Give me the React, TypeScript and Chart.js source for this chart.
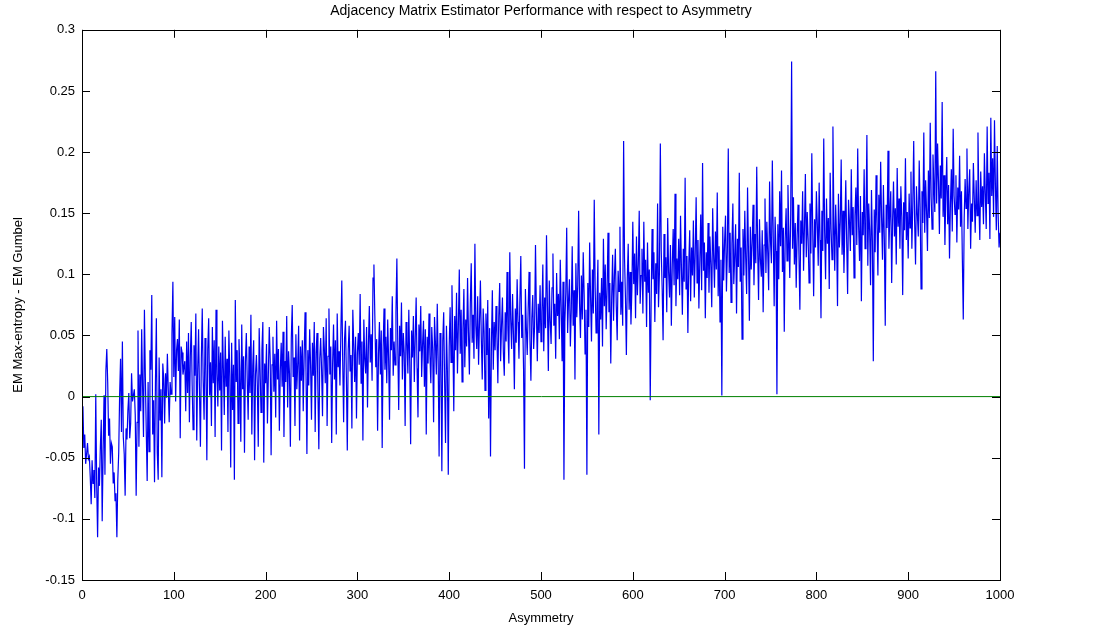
import React, { useEffect, useRef } from "react";
import { Chart, registerables } from "chart.js";

Chart.register(...registerables);

const chartTitle = "Adjacency Matrix Estimator Performance with respect to Asymmetry";
const xAxisTitle = "Asymmetry";
const yAxisTitle = "EM Max-entropy - EM Gumbel";

const xTickValues = [0, 100, 200, 300, 400, 500, 600, 700, 800, 900, 1000];
const xTickLabels = ["0", "100", "200", "300", "400", "500", "600", "700", "800", "900", "1000"];
const yTickValues = [-0.15, -0.1, -0.05, 0, 0.05, 0.1, 0.15, 0.2, 0.25, 0.3];
const yTickLabels = ["-0.15", "-0.1", "-0.05", "0", "0.05", "0.1", "0.15", "0.2", "0.25", "0.3"];

// EM Max-entropy - EM Gumbel, asymmetry 1..100
const diff1to100 = [
  -0.008, -0.042, -0.031, -0.055, -0.047, -0.038, -0.051, -0.049, -0.066, -0.088,
  -0.052, -0.071, -0.060, -0.083, 0.002, -0.071, -0.115, -0.058, -0.073, -0.041,
  -0.019, -0.102, -0.045, 0.001, -0.064, 0.021, 0.039, 0.012, -0.032, -0.018,
  -0.055, -0.038, -0.041, -0.071, -0.062, -0.085, -0.079, -0.115, -0.068, -0.046,
  0.002, 0.031, -0.029, 0.045, -0.033, -0.047, -0.081, -0.026, -0.035, -0.011,
  0.003, -0.034, -0.022, 0.019, -0.004, 0.001, 0.006, -0.015, -0.081, -0.021,
  0.054, -0.041, 0.018, -0.012, 0.055, 0.008, -0.033, 0.071, 0.016, -0.028,
  -0.069, 0.012, -0.045, 0.038, 0.022, 0.083, -0.031, -0.003, -0.070, 0.011,
  0.064, -0.046, -0.068, 0.032, -0.019, 0.006, -0.066, 0.027, 0.015, -0.022,
  0.019, -0.001, 0.035, 0.005, -0.021, 0.012, 0.002, 0.051, 0.094, 0.016,
];
const diff101to200 = [
  0.065, -0.004, 0.038, 0.047, 0.021, 0.063, -0.034, 0.041, 0.036, 0.018,
  0.024, 0.029, -0.012, 0.045, 0.003, 0.052, -0.021, 0.033, 0.061, 0.009,
  -0.027, 0.042, 0.017, 0.068, -0.036, 0.021, 0.055, 0.004, -0.041, 0.031,
  0.072, 0.013, -0.019, 0.048, 0.026, -0.052, 0.039, 0.064, 0.001, 0.028,
  -0.024, 0.057, 0.011, 0.046, -0.033, 0.071, 0.019, -0.008, 0.041, 0.005,
  0.036, -0.044, 0.062, 0.023, -0.015, 0.049, 0.008, 0.031, -0.029, 0.054,
  0.017, -0.058, 0.044, -0.011, 0.026, -0.068, 0.079, 0.012, 0.038, -0.022,
  0.047, 0.021, -0.037, 0.059, 0.006, 0.033, -0.046, 0.028, 0.052, 0.014,
  -0.019, 0.041, 0.003, 0.067, -0.031, 0.025, 0.046, -0.052, 0.018, 0.034,
  0.009, -0.041, 0.056, 0.022, -0.013, 0.038, 0.061, -0.054, 0.027, 0.011,
];
const diff201to300 = [
  0.043, -0.022, 0.018, 0.057, 0.031, -0.048, 0.026, 0.049, 0.004, 0.035,
  -0.017, 0.062, 0.014, 0.039, -0.028, 0.021, 0.044, 0.008, 0.053, -0.033,
  0.029, 0.012, 0.066, -0.009, 0.037, 0.019, -0.041, 0.048, 0.075, 0.016,
  0.032, -0.024, 0.051, 0.006, 0.027, 0.058, -0.036, 0.041, 0.013, 0.046,
  -0.012, 0.034, 0.069, 0.021, -0.047, 0.038, 0.009, 0.055, 0.026, -0.019,
  0.044, 0.017, 0.061, -0.029, 0.036, 0.052, 0.005, -0.043, 0.031, 0.048,
  0.022, -0.016, 0.057, 0.039, 0.011, 0.064, -0.024, 0.033, 0.072, 0.018,
  0.041, -0.038, 0.027, 0.059, 0.014, 0.046, -0.031, 0.068, 0.024, 0.037,
  0.009, 0.053, 0.095, 0.029, -0.021, 0.047, 0.062, 0.016, -0.044, 0.038,
  0.058, 0.021, 0.034, -0.026, 0.071, 0.043, 0.012, 0.049, -0.018, 0.036,
];
const diff301to400 = [
  0.052, 0.026, 0.084, 0.011, 0.045, -0.036, 0.063, 0.031, 0.019, 0.057,
  -0.009, 0.042, 0.074, 0.028, 0.051, 0.013, 0.097, 0.108, 0.066, 0.024,
  0.047, -0.028, 0.035, 0.061, 0.018, 0.054, -0.042, 0.039, 0.072, 0.022,
  0.049, 0.011, 0.063, 0.031, -0.019, 0.056, 0.038, 0.082, 0.017, 0.045,
  0.026, 0.069, 0.113, 0.041, -0.011, 0.058, 0.033, 0.077, 0.014, 0.052,
  0.036, -0.024, 0.061, 0.045, 0.019, 0.071, 0.028, -0.039, 0.054, 0.032,
  0.066, 0.012, 0.048, 0.081, 0.023, -0.017, 0.059, 0.037, 0.074, 0.016,
  0.043, 0.062, 0.008, 0.055, -0.031, 0.049, 0.027, 0.068, 0.034, 0.011,
  0.057, 0.039, -0.021, 0.065, 0.044, 0.018, 0.076, 0.029, -0.049, 0.052,
  0.031, -0.061, 0.046, 0.069, 0.013, -0.038, 0.058, 0.022, -0.064, 0.041,
];
const diff401to500 = [
  0.073, 0.028, 0.091, 0.047, -0.012, 0.066, 0.038, 0.085, 0.019, 0.059,
  0.104, 0.035, 0.071, 0.012, 0.056, 0.088, 0.024, 0.063, 0.041, 0.097,
  0.052, 0.018, 0.076, 0.109, 0.044, 0.067, 0.031, 0.125, 0.058, 0.039,
  0.082, 0.026, 0.061, 0.095, 0.047, 0.014, 0.072, 0.053, 0.005, 0.068,
  0.034, 0.079, -0.018, 0.056, -0.049, 0.043, 0.087, 0.022, 0.061, 0.038,
  0.074, 0.049, 0.011, 0.066, 0.093, 0.029, 0.058, 0.081, 0.036, 0.017,
  0.069, 0.045, 0.102, 0.054, 0.027, 0.118, 0.063, 0.039, 0.084, 0.051,
  0.006, 0.072, 0.044, 0.096, 0.061, 0.031, 0.079, 0.115, 0.048, 0.067,
  0.023, -0.059, 0.088, 0.057, 0.034, 0.071, 0.102, 0.046, 0.013, 0.064,
  0.083, 0.039, 0.057, 0.124, 0.068, 0.029, 0.076, 0.052, 0.091, 0.045,
];
const diff501to600 = [
  0.069, 0.108, 0.037, 0.081, 0.056, 0.132, 0.074, 0.021, 0.095, 0.062,
  0.043, 0.089, 0.117, 0.058, 0.076, 0.031, 0.101, 0.066, 0.084, 0.047,
  0.112, 0.073, 0.029, 0.094, -0.068, 0.061, 0.085, 0.138, 0.052, 0.079,
  0.096, 0.041, 0.071, 0.123, 0.058, 0.087, 0.014, 0.109, 0.065, 0.091,
  0.152, 0.076, 0.048, 0.099, 0.063, 0.118, 0.084, 0.035, 0.071, -0.064,
  0.093, 0.057, 0.126, 0.081, 0.045, 0.104, 0.068, 0.161, 0.089, 0.052,
  0.077, 0.112, -0.031, 0.085, 0.063, 0.097, 0.041, 0.129, 0.074, 0.108,
  0.055, 0.088, 0.134, 0.069, 0.093, 0.027, 0.081, 0.116, 0.062, 0.099,
  0.121, 0.074, 0.046, 0.103, 0.086, 0.139, 0.067, 0.094, 0.058, 0.209,
  0.113, 0.081, 0.034, 0.097, 0.125, 0.071, 0.102, 0.059, 0.088, 0.143,
];
const diff601to700 = [
  0.092, 0.117, 0.064, 0.131, 0.083, 0.108, 0.152, 0.076, 0.099, 0.121,
  0.068, 0.143, 0.094, 0.112, 0.057, 0.126, 0.085, 0.104, -0.003, 0.079,
  0.137, 0.096, 0.118, 0.061, 0.109, 0.084, 0.158, 0.073, 0.101, 0.207,
  0.119, 0.088, 0.046, 0.133, 0.097, 0.114, 0.069, 0.146, 0.102, 0.081,
  0.124, 0.058, 0.108, 0.137, 0.091, 0.166, 0.074, 0.113, 0.096, 0.129,
  0.083, 0.148, 0.105, 0.067, 0.121, 0.094, 0.179, 0.088, 0.115, 0.052,
  0.109, 0.136, 0.078, 0.122, 0.099, 0.144, 0.081, 0.117, 0.163, 0.093,
  0.128, 0.072, 0.111, 0.149, 0.087, 0.191, 0.103, 0.126, 0.064, 0.118,
  0.097, 0.142, 0.085, 0.131, 0.108, 0.073, 0.154, 0.116, 0.089, 0.135,
  0.104, 0.167, 0.082, 0.123, 0.061, 0.112, 0.001, 0.139, 0.095, 0.127,
];
const diff701to800 = [
  0.148, 0.086, 0.119, 0.203, 0.101, 0.134, 0.077, 0.125, 0.158, 0.092,
  0.115, 0.141, 0.068, 0.129, 0.106, 0.183, 0.094, 0.122, 0.047, 0.137,
  0.099, 0.152, 0.113, 0.084, 0.171, 0.118, 0.062, 0.139, 0.104, 0.126,
  0.157, 0.091, 0.133, 0.109, 0.188, 0.121, 0.079, 0.145, 0.112, 0.098,
  0.136, 0.069, 0.124, 0.162, 0.101, 0.143, 0.118, 0.087, 0.176, 0.127,
  0.109, 0.193, 0.131, 0.074, 0.147, 0.119, 0.002, 0.141, 0.096, 0.168,
  0.123, 0.185, 0.102, 0.138, 0.053, 0.129, 0.154, 0.111, 0.173, 0.134,
  0.097, 0.149, 0.274, 0.121, 0.163, 0.108, 0.142, 0.089, 0.131, 0.157,
  0.116, 0.071, 0.144, 0.125, 0.168, 0.103, 0.139, 0.182, 0.114, 0.151,
  0.129, 0.093, 0.158, 0.117, 0.199, 0.136, 0.082, 0.145, 0.122, 0.168,
];
const diff801to900 = [
  0.141, 0.107, 0.175, 0.128, 0.064, 0.152, 0.119, 0.211, 0.134, 0.096,
  0.162, 0.125, 0.146, 0.088, 0.183, 0.137, 0.112, 0.221, 0.148, 0.103,
  0.157, 0.131, 0.074, 0.166, 0.122, 0.143, 0.194, 0.116, 0.152, 0.101,
  0.138, 0.177, 0.126, 0.084, 0.161, 0.143, 0.119, 0.186, 0.132, 0.155,
  0.097, 0.148, 0.171, 0.124, 0.203, 0.139, 0.111, 0.164, 0.078, 0.151,
  0.132, 0.186, 0.121, 0.145, 0.214, 0.107, 0.158, 0.136, 0.091, 0.169,
  0.127, 0.029, 0.153, 0.118, 0.181, 0.142, 0.099, 0.165, 0.134, 0.192,
  0.146, 0.112, 0.173, 0.129, 0.058, 0.157, 0.138, 0.201, 0.121, 0.149,
  0.168, 0.093, 0.144, 0.176, 0.131, 0.154, 0.108, 0.187, 0.139, 0.162,
  0.121, 0.172, 0.147, 0.083, 0.159, 0.136, 0.195, 0.128, 0.151, 0.113,
];
const diff901to1000 = [
  0.166, 0.138, 0.184, 0.121, 0.157, 0.209, 0.143, 0.108, 0.172, 0.149,
  0.131, 0.193, 0.155, 0.088, 0.168, 0.142, 0.216, 0.134, 0.177, 0.152,
  0.119, 0.185, 0.146, 0.224, 0.163, 0.137, 0.198, 0.172, 0.151, 0.266,
  0.158, 0.207, 0.176, 0.133, 0.189, 0.162, 0.241, 0.147, 0.181, 0.124,
  0.167, 0.196, 0.141, 0.173, 0.113, 0.158, 0.186, 0.135, 0.219, 0.164,
  0.149, 0.181, 0.126, 0.171, 0.153, 0.197, 0.139, 0.168, 0.112, 0.063,
  0.146, 0.178, 0.154, 0.203, 0.137, 0.169, 0.186, 0.121, 0.158, 0.143,
  0.191, 0.162, 0.134, 0.177, 0.148, 0.216, 0.159, 0.128, 0.184, 0.155,
  0.172, 0.141, 0.199, 0.166, 0.137, 0.221, 0.158, 0.183, 0.129, 0.228,
  0.164, 0.195, 0.147, 0.226, 0.173, 0.136, 0.205, 0.148, 0.122, 0.134,
];

const zeroLineX = [1, 1000];
const zeroLineY = [0, 0];

const FONT = "'Liberation Sans', Arial, Helvetica, sans-serif";

const matlabAxesPlugin = {
  id: "matlabAxes",
  afterDatasetsDraw(chart: any) {
    const { ctx, chartArea, scales } = chart;
    const { left, right, top, bottom } = chartArea;
    const tick = 8;
    ctx.save();
    ctx.strokeStyle = "#000000";
    ctx.lineWidth = 1;
    ctx.beginPath();
    xTickValues.forEach((v) => {
      const px = Math.round(scales.x.getPixelForValue(v)) + 0.5;
      ctx.moveTo(px, bottom);
      ctx.lineTo(px, bottom - tick);
      ctx.moveTo(px, top);
      ctx.lineTo(px, top + tick);
    });
    yTickValues.forEach((v) => {
      const py = Math.round(scales.y.getPixelForValue(v)) + 0.5;
      ctx.moveTo(left, py);
      ctx.lineTo(left + tick, py);
      ctx.moveTo(right, py);
      ctx.lineTo(right - tick, py);
    });
    ctx.stroke();
    ctx.strokeRect(Math.round(left) + 0.5, Math.round(top) + 0.5, Math.round(right - left), Math.round(bottom - top));
    ctx.restore();
  },
};

export default function App() {
  const canvasRef = useRef<HTMLCanvasElement | null>(null);

  useEffect(() => {
    const canvas = canvasRef.current;
    if (!canvas) return;
    const values = [
      ...diff1to100, ...diff101to200, ...diff201to300, ...diff301to400, ...diff401to500,
      ...diff501to600, ...diff601to700, ...diff701to800, ...diff801to900, ...diff901to1000,
    ];
    const asymmetry = values.map((_, i) => i + 1);
    const chart = new Chart(canvas, {
      type: "line",
      data: {
        datasets: [
          {
            label: "zero",
            data: zeroLineX.map((x, i) => ({ x, y: zeroLineY[i] })),
            borderColor: "#008000",
            borderWidth: 1,
            pointRadius: 0,
            order: 0,
          },
          {
            label: "difference",
            data: values.map((y, i) => ({ x: asymmetry[i], y })),
            borderColor: "#0000f0",
            borderWidth: 1.2,
            pointRadius: 0,
            tension: 0,
            order: 1,
          },
        ],
      },
      options: {
        animation: false,
        responsive: false,
        devicePixelRatio: 1,
        layout: { padding: { left: 0, right: 101, top: 0, bottom: 0 } },
        plugins: {
          legend: { display: false },
          tooltip: { enabled: false },
          title: {
            display: true,
            text: chartTitle,
            fullSize: false,
            color: "#000000",
            font: { family: FONT, size: 14, weight: "normal" },
            padding: { top: 3, bottom: 10 },
          },
        },
        scales: {
          x: {
            type: "linear",
            min: 0,
            max: 1000,
            grid: { display: false, drawTicks: false },
            border: { display: false },
            afterBuildTicks: (axis: any) => {
              axis.ticks = xTickValues.map((v) => ({ value: v }));
            },
            afterFit: (axis: any) => {
              axis.height = 51;
            },
            ticks: {
              autoSkip: false,
              maxRotation: 0,
              padding: 8,
              color: "#000000",
              font: { family: FONT, size: 13 },
              callback: (_v: any, i: number) => xTickLabels[i],
            },
            title: {
              display: true,
              text: xAxisTitle,
              color: "#000000",
              font: { family: FONT, size: 13 },
              padding: { top: 0, bottom: 5 },
            },
          },
          y: {
            type: "linear",
            min: -0.15,
            max: 0.3,
            grid: { display: false, drawTicks: false },
            border: { display: false },
            afterBuildTicks: (axis: any) => {
              axis.ticks = yTickValues.map((v) => ({ value: v }));
            },
            afterFit: (axis: any) => {
              axis.width = 82;
            },
            ticks: {
              autoSkip: false,
              padding: 7,
              color: "#000000",
              font: { family: FONT, size: 13 },
              callback: (_v: any, i: number) => yTickLabels[i],
            },
            title: {
              display: true,
              text: yAxisTitle,
              color: "#000000",
              font: { family: FONT, size: 13 },
              padding: { top: 11, bottom: 0 },
            },
          },
        },
      },
      plugins: [matlabAxesPlugin],
    });
    return () => chart.destroy();
  }, []);

  return (
    <div style={{ position: "absolute", left: 0, top: 0, width: 1101, height: 631, background: "#ffffff" }}>
      <canvas ref={canvasRef} width={1101} height={631} />
    </div>
  );
}
